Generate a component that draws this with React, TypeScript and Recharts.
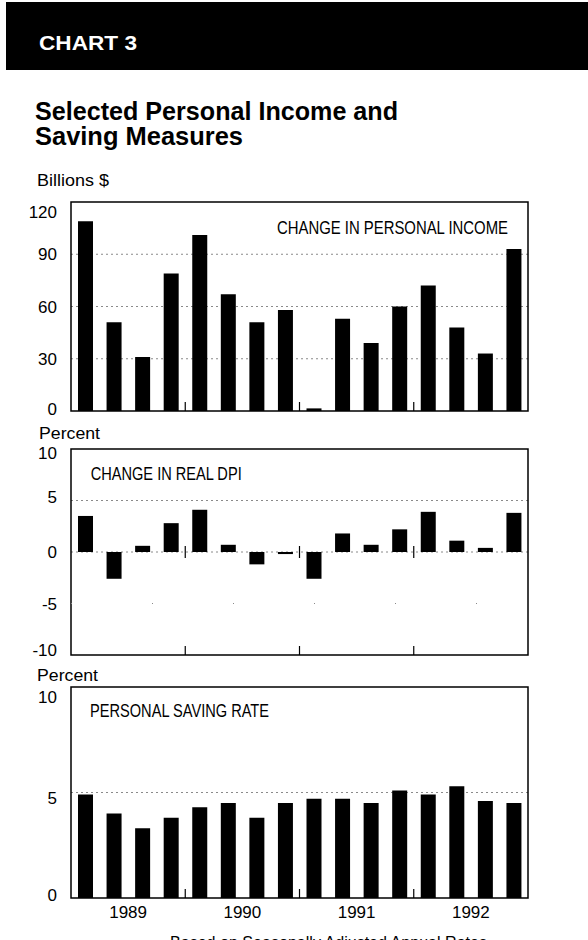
import React from 'react'
import {
  BarChart, Bar, XAxis, YAxis, CartesianGrid, ReferenceArea, ReferenceLine, ReferenceDot,
} from 'recharts'

const quarters = [
  '89Q1', '89Q2', '89Q3', '89Q4', '90Q1', '90Q2', '90Q3', '90Q4',
  '91Q1', '91Q2', '91Q3', '91Q4', '92Q1', '92Q2', '92Q3', '92Q4',
]
const years = ['1989', '1990', '1991', '1992']

// billions $, change in personal income
const incomeChange = [109, 51, 31, 79, 101, 67, 51, 58, 1.5, 53, 39, 60, 72, 48, 33, 93]
// percent, change in real DPI
const realDpiChange = [3.5, -2.6, 0.6, 2.8, 4.1, 0.7, -1.2, -0.2, -2.6, 1.8, 0.7, 2.2, 3.9, 1.1, 0.4, 3.8]
// percent, personal saving rate
const savingRate = [4.9, 4.0, 3.3, 3.8, 4.3, 4.5, 3.8, 4.5, 4.7, 4.7, 4.5, 5.1, 4.9, 5.3, 4.6, 4.5]

const incomeTicks = [0, 30, 60, 90, 120]
const dpiTicks = [-10, -5, 0, 5, 10]
const savingTicks = [0, 5, 10]

const FONT = '"Liberation Sans", Arial, Helvetica, sans-serif'
const W = 588
const PLOT_LEFT = 71
const PLOT_RIGHT = 528
const HALF_BAND = (PLOT_RIGHT - PLOT_LEFT) / quarters.length / 2
const GRID = '#8a8a8a'

function rows(values: number[]) {
  return quarters.map((q, i) => ({ q, v: values[i] }))
}

function makeYTick(shifts: Record<number, number>) {
  return (p: any) => (
    <text x={p.x} y={p.y + (shifts[p.payload.value] ?? 0)} dy="0.36em" textAnchor="end"
      fontSize={17} fontFamily={FONT} fill="#000">
      {p.payload.value}
    </text>
  )
}

function makeXTick(showYears: boolean) {
  return (p: any) => {
    const i = p.payload.index
    return (
      <g>
        {i % 4 === 0 && i > 0 && (
          <line x1={p.x - HALF_BAND} x2={p.x - HALF_BAND} y1={p.y} y2={p.y - 9} stroke="#000" strokeWidth={1.2} />
        )}
        {showYears && i % 4 === 1 && (
          <text x={p.x + HALF_BAND} y={p.y + 20} textAnchor="middle" fontSize={17} fontFamily={FONT} fill="#000">
            {years[Math.floor(i / 4)]}
          </text>
        )}
      </g>
    )
  }
}

function ZeroTick(p: any) {
  return <line x1={p.cx - HALF_BAND} x2={p.cx - HALF_BAND} y1={p.cy - 6} y2={p.cy + 6} stroke="#000" strokeWidth={1.2} />
}

interface PanelProps {
  values: number[]
  ticks: number[]
  grid: number[]
  top: number
  plotH: number
  shifts: Record<number, number>
  years?: boolean
  zeroTicks?: boolean
  sparse?: number
}

function Panel({ values, ticks, grid, top, plotH, shifts, years: showYears = false, zeroTicks = false, sparse }: PanelProps) {
  const domain: [number, number] = [ticks[0], ticks[ticks.length - 1]]
  const xH = showYears ? 30 : 2
  const padB = showYears ? 0 : 10
  return (
    <div style={{ position: 'absolute', left: 0, top }}>
      <BarChart width={W} height={10 + plotH + xH + padB} data={rows(values)}
        margin={{ top: 10, right: W - PLOT_RIGHT, bottom: padB, left: 0 }}>
        <CartesianGrid vertical={false} horizontalValues={grid} stroke={GRID} strokeDasharray="2 3" />
        {sparse !== undefined && <ReferenceLine y={sparse} stroke={GRID} strokeDasharray="1 80" />}
        <XAxis dataKey="q" interval={0} axisLine={false} tickLine={false} tickSize={0} tickMargin={0}
          height={xH} tick={makeXTick(showYears)} />
        <YAxis width={PLOT_LEFT} domain={domain} ticks={ticks} interval={0} axisLine={false}
          tickLine={false} tickSize={0} tickMargin={14} tick={makeYTick(shifts)} />
        <Bar dataKey="v" fill="#000" barSize={15} isAnimationActive={false} />
        {zeroTicks && [4, 8, 12].map(i => (
          <ReferenceDot key={i} x={quarters[i]} y={0} r={0} shape={ZeroTick} />
        ))}
        <ReferenceArea y1={domain[0]} y2={domain[1]} stroke="#000" strokeWidth={1.5} fill="none" fillOpacity={0} />
      </BarChart>
    </div>
  )
}

export default function App() {
  const txt = { fontFamily: FONT, fill: '#000' }
  return (
    <div style={{ position: 'absolute', left: 0, top: 0, width: W, height: 940, overflow: 'hidden', background: '#fff' }}>
      <Panel values={incomeChange} ticks={incomeTicks} grid={[30, 60, 90]} top={192} plotH={209}
        shifts={{ 120: 10, 0: -2.5 }} />
      <Panel values={realDpiChange} ticks={dpiTicks} grid={[5, 0]} top={439} plotH={206}
        shifts={{ 10: 3.5, 5: -4, '-10': -5 }} zeroTicks sparse={-5} />
      <Panel values={savingRate} ticks={savingTicks} grid={[5]} top={677} plotH={211}
        shifts={{ 10: 10, 5: 5, 0: -3 }} years />
      <svg width={W} height={940} style={{ position: 'absolute', left: 0, top: 0, pointerEvents: 'none' }}>
        <rect x={6} y={2} width={W - 6} height={68} fill="#000" />
        <text x={39} y={49.5} fontFamily={FONT} fontWeight="bold" fontSize={20} fill="#fff"
          textLength={98} lengthAdjust="spacingAndGlyphs">CHART 3</text>
        <text x={35} y={119.5} {...txt} fontWeight="bold" fontSize={26} textLength={363}
          lengthAdjust="spacingAndGlyphs">Selected Personal Income and</text>
        <text x={35} y={144.5} {...txt} fontWeight="bold" fontSize={26} textLength={208}
          lengthAdjust="spacingAndGlyphs">Saving Measures</text>
        <text x={37} y={186} {...txt} fontSize={17} textLength={72} lengthAdjust="spacingAndGlyphs">Billions $</text>
        <text x={39} y={439} {...txt} fontSize={17} textLength={61} lengthAdjust="spacingAndGlyphs">Percent</text>
        <text x={37} y={681} {...txt} fontSize={17} textLength={61} lengthAdjust="spacingAndGlyphs">Percent</text>
        <text x={277} y={233.5} {...txt} fontSize={17.5} textLength={231}
          lengthAdjust="spacingAndGlyphs">CHANGE IN PERSONAL INCOME</text>
        <text x={90.7} y={479.5} {...txt} fontSize={17.5} textLength={151}
          lengthAdjust="spacingAndGlyphs">CHANGE IN REAL DPI</text>
        <text x={90} y={717} {...txt} fontSize={17.5} textLength={179}
          lengthAdjust="spacingAndGlyphs">PERSONAL SAVING RATE</text>
        <text x={170} y={948} {...txt} fontSize={16} textLength={317}
          lengthAdjust="spacingAndGlyphs">Based on Seasonally Adjusted Annual Rates</text>
      </svg>
    </div>
  )
}
